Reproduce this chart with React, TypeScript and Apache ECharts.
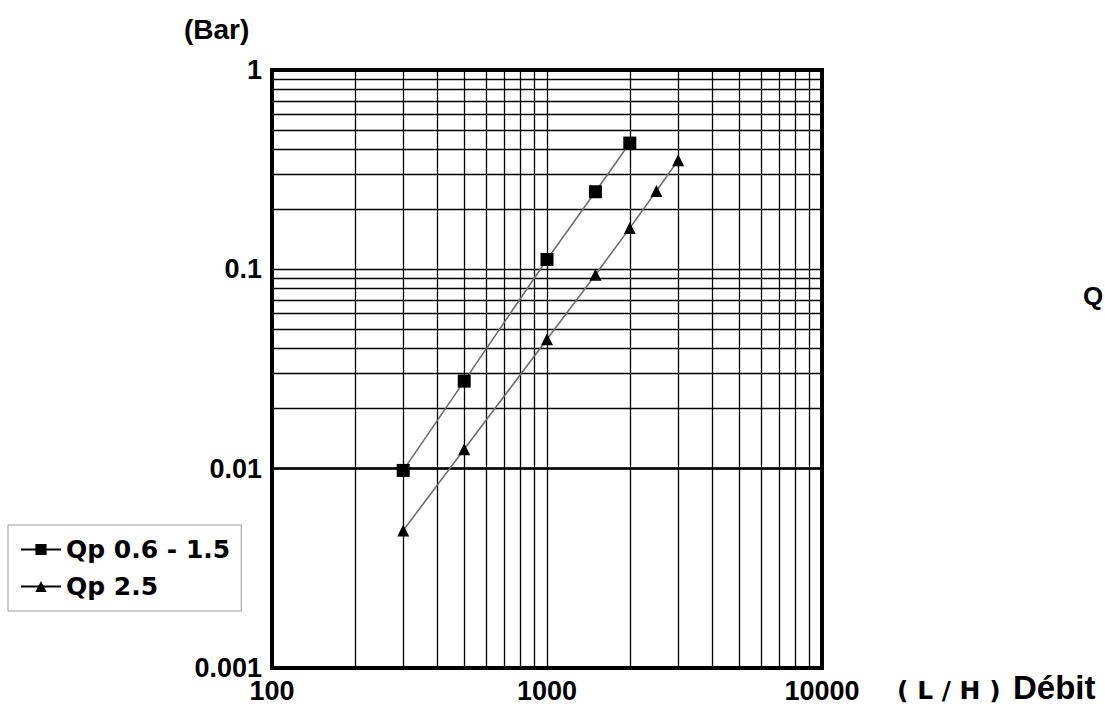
import React, { useEffect, useRef } from "react";
import * as echarts from "echarts";

const flowA = [300, 500, 1000, 1500, 2000];
const lossA = [0.0098, 0.0275, 0.112, 0.245, 0.43];
const flowB = [300, 500, 1000, 1500, 2000, 2500, 3000];
const lossB = [0.0049, 0.0125, 0.0446, 0.094, 0.161, 0.247, 0.353];
const nameA = "Qp 0.6 - 1.5";
const nameB = "Qp 2.5";
const minorX = [200, 300, 400, 500, 600, 700, 800, 900, 2000, 3000, 4000, 5000, 6000, 7000, 8000, 9000];
const minorY = [
  0.002, 0.003, 0.004, 0.005, 0.006, 0.007, 0.008, 0.009,
  0.02, 0.03, 0.04, 0.05, 0.06, 0.07, 0.08, 0.09,
  0.2, 0.3, 0.4, 0.5, 0.6, 0.7, 0.8, 0.9,
];

const FONT = "'Liberation Sans', Arial, sans-serif";
const WIDE = "'DejaVu Sans', sans-serif";

export default function App() {
  const ref = useRef<HTMLDivElement>(null);
  useEffect(() => {
    document.body.style.margin = "0";
    if (!ref.current) return;
    const chart = echarts.init(ref.current, null, { renderer: "svg" });
    const fmt = (v: number) => String(+Number(v).toPrecision(3));
    chart.setOption({
      animation: false,
      backgroundColor: "#fff",
      grid: {
        left: 272, right: 283, top: 70, bottom: 36,
        show: true, borderColor: "#000", borderWidth: 4, backgroundColor: "transparent",
      },
      legend: {
        data: [nameA, nameB],
        orient: "vertical",
        left: 8, top: 525,
        borderColor: "#999", borderWidth: 1,
        padding: [12, 11, 12, 12],
        itemGap: 12, itemWidth: 40, itemHeight: 14,
        lineStyle: { color: "#000", width: 2 },
        textStyle: { fontFamily: WIDE, fontWeight: "bold", fontSize: 25, color: "#000" },
      },
      xAxis: {
        type: "log", logBase: 10, min: 100, max: 10000,
        axisLine: { show: false }, axisTick: { show: false },
        splitLine: { show: true, lineStyle: { color: "#000", width: 1.3 } },
        axisLabel: {
          formatter: fmt, margin: 9,
          fontFamily: FONT, fontWeight: "bold", fontSize: 27, color: "#000",
        },
      },
      yAxis: {
        type: "log", logBase: 10, min: 0.001, max: 1,
        axisLine: { show: false }, axisTick: { show: false },
        splitLine: { show: true, lineStyle: { color: "#000", width: 1.3 } },
        axisLabel: {
          formatter: fmt, margin: 10,
          fontFamily: FONT, fontWeight: "bold", fontSize: 27, color: "#000",
        },
      },
      graphic: [
        { type: "text", x: 184, y: 29, style: { text: "(Bar)", font: `bold 28px ${FONT}`, fill: "#000", textVerticalAlign: "middle" } },
        { type: "text", x: 897, y: 690, style: { text: "( L / H )", font: `bold 25px ${WIDE}`, fill: "#000", textVerticalAlign: "middle" } },
        { type: "text", x: 1013, y: 687, style: { text: "Débit", font: `bold 33px ${FONT}`, fill: "#000", textVerticalAlign: "middle" } },
        { type: "text", x: 1083, y: 296, style: { text: "Q", font: `bold 26px ${FONT}`, fill: "#000", textVerticalAlign: "middle" } },
      ],
      series: [
        {
          name: "grid",
          type: "line",
          data: [],
          silent: true,
          markLine: {
            silent: true,
            symbol: ["none", "none"],
            label: { show: false },
            lineStyle: { color: "#000", width: 1.3, type: "solid" },
            data: [
              ...minorX.map((v) => ({ xAxis: v })),
              ...minorY.map((v) => ({ yAxis: v })),
            ],
          },
        },
        {
          name: nameA,
          type: "line",
          data: flowA.map((x, i) => [x, lossA[i]]),
          symbol: "rect",
          symbolSize: 13,
          itemStyle: { color: "#000" },
          lineStyle: { color: "#6e6e6e", width: 1.6 },
          z: 5,
        },
        {
          name: nameB,
          type: "line",
          data: flowB.map((x, i) => [x, lossB[i]]),
          symbol: "triangle",
          symbolSize: 12,
          itemStyle: { color: "#000" },
          lineStyle: { color: "#6e6e6e", width: 1.6 },
          z: 5,
        },
      ],
    });
    return () => chart.dispose();
  }, []);
  return <div ref={ref} style={{ width: 1105, height: 704 }} />;
}
